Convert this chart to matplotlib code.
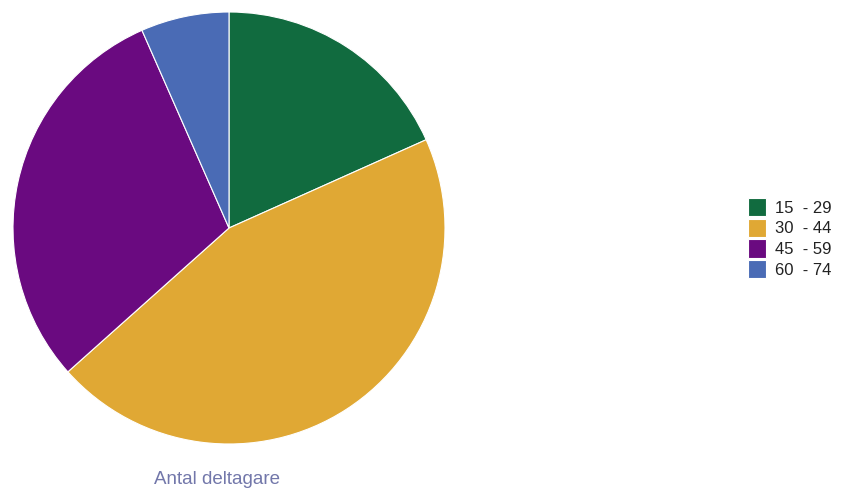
import matplotlib.pyplot as plt

# slices (share of participants)
labels = ["15  - 29", "30  - 44", "45  - 59", "60  - 74"]
values = [18.3, 45.1, 30.0, 6.6]
colors = ["#116b3f", "#e0a834", "#6a0a80", "#4a6bb5"]
title = "Antal deltagare"

plt.rcParams["font.family"] = ["Liberation Sans", "DejaVu Sans"]

W, H = 848, 493
fig = plt.figure(figsize=(W / 100, H / 100), dpi=100)
fig.patch.set_facecolor("white")

# pie axes: centre (229, 228), radius 216 px
cx, cy, r = 229, 228, 216
ax = fig.add_axes([(cx - r) / W, 1 - (cy + r) / H, 2 * r / W, 2 * r / H])
wedges, _ = ax.pie(values, colors=colors, startangle=90, counterclock=False,
                   radius=1, wedgeprops=dict(linewidth=0.8, edgecolor="white"))
ax.set_xlim(-1, 1)
ax.set_ylim(-1, 1)
ax.set_aspect("equal")
ax.axis("off")

fig.text(217 / W, 1 - 480 / H, title, ha="center", va="center",
         fontsize=13.5, color="#7277aa")

leg = fig.legend(wedges, labels, loc="upper left",
                 bbox_to_anchor=(748 / W, 1 - 198 / H),
                 frameon=False, fontsize=12, borderpad=0, borderaxespad=0,
                 handlelength=1.05, handleheight=1.3, handletextpad=0.55,
                 labelspacing=0.15, labelcolor="#222222")

fig.savefig("out.png", dpi=100)
